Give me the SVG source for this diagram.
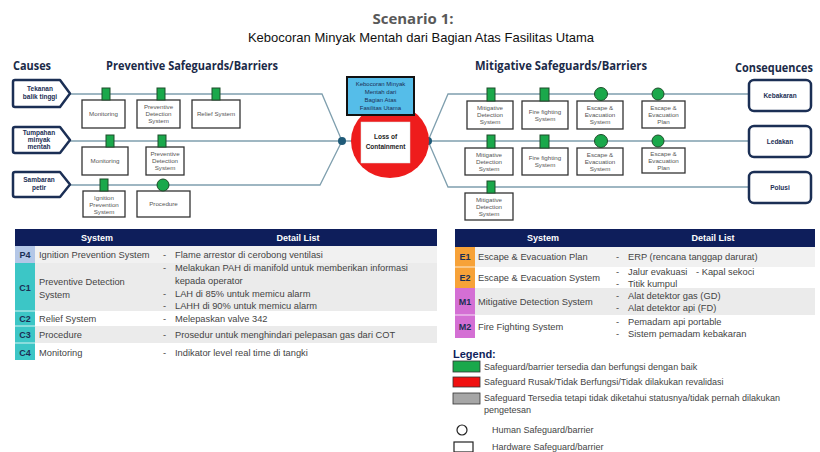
<svg xmlns="http://www.w3.org/2000/svg" width="820" height="452" viewBox="0 0 820 452">
<style>
.hd{font-family:"Open Sans","Noto Sans",sans-serif;font-weight:bold;fill:#1b2a48}
.ln{fill:none;stroke:#7f9fae;stroke-width:1.3}
.dot{fill:#1f5a78}
.bx{fill:#fff;stroke:#333;stroke-width:1.3}
.bt{font-family:"Liberation Sans",Arial,sans-serif;font-size:6.2px;fill:#555;text-anchor:middle}
.sq{fill:#1aa84b;stroke:#1d4d2a;stroke-width:1}
.cs{fill:#fff;stroke:#1b2f55;stroke-width:2.5;stroke-linejoin:round}
.ct{font-family:"Liberation Sans",Arial,sans-serif;font-size:6.5px;font-weight:bold;fill:#1b2f55;text-anchor:middle}
.th{fill:#0e1e5b}
.tht{font-family:"Liberation Sans",Arial,sans-serif;font-size:9px;font-weight:bold;fill:#fff;text-anchor:middle}
.tt{font-family:"Liberation Sans",Arial,sans-serif;font-size:9.3px;fill:#444}
.tc{font-family:"Liberation Sans",Arial,sans-serif;font-size:9px;font-weight:bold;fill:#1b2f55;text-anchor:middle}
.g1{fill:#f1f1f1}
.lg{font-family:"Liberation Sans",Arial,sans-serif;font-size:9px;fill:#444}
</style>

<!-- Titles -->
<text x="413" y="24" text-anchor="middle" font-family="Open Sans, Noto Sans, sans-serif" font-weight="bold" font-size="15" fill="#595959">Scenario 1:</text>
<text x="421" y="42" text-anchor="middle" font-family="Liberation Sans, Arial, sans-serif" font-size="13" fill="#111">Kebocoran Minyak Mentah dari Bagian Atas Fasilitas Utama</text>

<text class="hd" x="13" y="70" font-size="12" textLength="38" lengthAdjust="spacingAndGlyphs">Causes</text>
<text class="hd" x="106" y="70" font-size="12" textLength="172" lengthAdjust="spacingAndGlyphs">Preventive Safeguards/Barriers</text>
<text class="hd" x="475" y="70" font-size="12" textLength="172" lengthAdjust="spacingAndGlyphs">Mitigative Safeguards/Barriers</text>
<text class="hd" x="735" y="72" font-size="11.5" textLength="78" lengthAdjust="spacingAndGlyphs">Consequences</text>

<!-- Connectors -->
<g id="connectors">
<path class="ln" d="M70,94 H322 L342,141"/>
<path class="ln" d="M70,141 H352"/>
<path class="ln" d="M70,185 H320 L342,141"/>
<path class="ln" d="M428,141 L448,94 H749"/>
<path class="ln" d="M428,141 H749"/>
<path class="ln" d="M428,141 L448,187 H749"/>
<circle class="dot" cx="342" cy="141" r="4"/>
<circle class="dot" cx="428" cy="141" r="4"/>
</g>

<!-- Causes -->
<g id="cause-1">
<path class="cs" d="M15,80 H60 L70,93.5 L60,107 H15 Q13,107 13,105 V82 Q13,80 15,80 Z"/>
<text class="ct" x="40" y="91">Tekanan</text>
<text class="ct" x="40" y="99">balik tinggi</text>
</g>
<g id="cause-2">
<path class="cs" d="M15,127 H60 L70,140 L60,153 H15 Q13,153 13,151 V129 Q13,127 15,127 Z"/>
<text class="ct" x="39" y="135">Tumpahan</text>
<text class="ct" x="39" y="142">minyak</text>
<text class="ct" x="39" y="149">mentah</text>
</g>
<g id="cause-3">
<path class="cs" d="M15,172 H60 L70,184.5 L60,197 H15 Q13,197 13,195 V174 Q13,172 15,172 Z"/>
<text class="ct" x="39" y="182">Sambaran</text>
<text class="ct" x="39" y="190">petir</text>
</g>

<!-- Preventive barriers row 1 -->
<g id="p1-monitoring">
<rect class="bx" x="82" y="100" width="43" height="28"/>
<rect class="sq" x="102" y="88" width="8" height="12"/>
<text class="bt" x="103.5" y="116">Monitoring</text>
</g>
<g id="p1-pds">
<rect class="bx" x="137" y="100" width="43" height="28"/>
<rect class="sq" x="157" y="88" width="8" height="12"/>
<text class="bt" x="158.5" y="109">Preventive</text>
<text class="bt" x="158.5" y="116">Detection</text>
<text class="bt" x="158.5" y="123">System</text>
</g>
<g id="p1-relief">
<rect class="bx" x="192" y="100" width="48" height="28"/>
<rect class="sq" x="212" y="88" width="8" height="12"/>
<text class="bt" x="216" y="116">Relief System</text>
</g>
<!-- row 2 -->
<g id="p2-monitoring">
<rect class="bx" x="82" y="147" width="46" height="28"/>
<rect class="sq" x="106" y="135" width="8" height="12"/>
<text class="bt" x="105" y="163">Monitoring</text>
</g>
<g id="p2-pds">
<rect class="bx" x="146" y="147" width="38" height="28"/>
<rect class="sq" x="158" y="135" width="8" height="12"/>
<text class="bt" x="165" y="156">Preventive</text>
<text class="bt" x="165" y="163">Detection</text>
<text class="bt" x="165" y="170">System</text>
</g>
<!-- row 3 -->
<g id="p3-ips">
<rect class="bx" x="83" y="191" width="42" height="26"/>
<rect class="sq" x="100" y="179" width="8" height="12"/>
<text class="bt" x="104" y="199.5">Ignition</text>
<text class="bt" x="104" y="206.5">Prevention</text>
<text class="bt" x="104" y="213.5">System</text>
</g>
<g id="p3-procedure">
<rect class="bx" x="137" y="191" width="53" height="26"/>
<circle class="sq" cx="163" cy="185" r="6"/>
<text class="bt" x="163.5" y="206">Procedure</text>
</g>

<!-- Top event -->
<g id="loss-of-containment">
<ellipse cx="390" cy="141" rx="39" ry="37" fill="#ee1c1c"/>
<rect x="361" y="122" width="49" height="41" fill="#fff" stroke="#ddd" stroke-width="0.5"/>
<text class="ct" x="385.5" y="139" style="fill:#222">Loss of</text>
<text class="ct" x="385.5" y="149" style="fill:#222">Containment</text>
</g>
<g id="hazard">
<rect x="347" y="77" width="67" height="38" fill="#55bde9" stroke="#111" stroke-width="2"/>
<text class="bt" x="380.5" y="86" style="fill:#1b2f55;font-size:6px">Kebocoran Minyak</text>
<text class="bt" x="380.5" y="94" style="fill:#1b2f55;font-size:6px">Mentah dari</text>
<text class="bt" x="380.5" y="102" style="fill:#1b2f55;font-size:6px">Bagian Atas</text>
<text class="bt" x="380.5" y="110" style="fill:#1b2f55;font-size:6px">Fasilitas Utama</text>
</g>

<!-- Mitigative row 1 -->
<g id="m1-mds">
<rect class="bx" x="467" y="101" width="46" height="28"/>
<rect class="sq" x="487" y="88" width="8" height="13"/>
<text class="bt" x="490" y="110">Mitigative</text>
<text class="bt" x="490" y="117">Detection</text>
<text class="bt" x="490" y="124">System</text>
</g>
<g id="m1-ffs">
<rect class="bx" x="522" y="101" width="46" height="28"/>
<rect class="sq" x="540" y="88" width="9" height="13"/>
<text class="bt" x="545" y="113.5">Fire fighting</text>
<text class="bt" x="545" y="120.5">System</text>
</g>
<g id="m1-ees">
<rect class="bx" x="577" y="101" width="46" height="28"/>
<circle class="sq" cx="601" cy="94" r="6.5"/>
<text class="bt" x="600" y="110">Escape &amp;</text>
<text class="bt" x="600" y="117">Evacuation</text>
<text class="bt" x="600" y="124">System</text>
</g>
<g id="m1-eep">
<rect class="bx" x="642" y="101" width="43" height="27"/>
<circle class="sq" cx="658" cy="94" r="6"/>
<text class="bt" x="663.5" y="109.5">Escape &amp;</text>
<text class="bt" x="663.5" y="116.5">Evacuation</text>
<text class="bt" x="663.5" y="123.5">Plan</text>
</g>
<!-- row 2 -->
<g id="m2-mds">
<rect class="bx" x="465" y="148" width="48" height="27"/>
<rect class="sq" x="487" y="135" width="8" height="13"/>
<text class="bt" x="489" y="156.5">Mitigative</text>
<text class="bt" x="489" y="163.5">Detection</text>
<text class="bt" x="489" y="170.5">System</text>
</g>
<g id="m2-ffs">
<rect class="bx" x="522" y="148" width="46" height="27"/>
<rect class="sq" x="540" y="135" width="9" height="13"/>
<text class="bt" x="545" y="160">Fire fighting</text>
<text class="bt" x="545" y="167">System</text>
</g>
<g id="m2-ees">
<rect class="bx" x="577" y="148" width="46" height="27"/>
<circle class="sq" cx="601" cy="141" r="6.5"/>
<text class="bt" x="600" y="156.5">Escape &amp;</text>
<text class="bt" x="600" y="163.5">Evacuation</text>
<text class="bt" x="600" y="170.5">System</text>
</g>
<g id="m2-eep">
<rect class="bx" x="642" y="148" width="43" height="25"/>
<circle class="sq" cx="658" cy="141" r="6"/>
<text class="bt" x="663.5" y="155.5">Escape &amp;</text>
<text class="bt" x="663.5" y="162.5">Evacuation</text>
<text class="bt" x="663.5" y="169.5">Plan</text>
</g>
<!-- row 3 -->
<g id="m3-mds">
<rect class="bx" x="465" y="193" width="48" height="27"/>
<rect class="sq" x="487" y="181" width="8" height="12"/>
<text class="bt" x="489" y="201.5">Mitigative</text>
<text class="bt" x="489" y="208.5">Detection</text>
<text class="bt" x="489" y="215.5">System</text>
</g>

<!-- Consequences -->
<g id="c-kebakaran">
<rect class="cs" x="749" y="80" width="62" height="31" rx="5"/>
<text class="ct" x="780" y="98">Kebakaran</text>
</g>
<g id="c-ledakan">
<rect class="cs" x="749" y="126" width="62" height="31" rx="5"/>
<text class="ct" x="780" y="144">Ledakan</text>
</g>
<g id="c-polusi">
<rect class="cs" x="749" y="172" width="62" height="31" rx="5"/>
<text class="ct" x="780" y="190">Polusi</text>
</g>

<!-- Left table -->
<g id="table-preventive">
<rect class="th" x="15" y="229" width="422" height="17"/>
<text class="tht" x="97" y="241">System</text>
<text class="tht" x="298" y="241">Detail List</text>
<rect class="g1" x="35" y="246" width="402" height="17"/>
<rect x="35" y="263" width="402" height="48" fill="#ebebeb"/>
<rect x="35" y="326" width="402" height="17" fill="#ebebeb"/>
<rect x="15" y="246" width="20" height="17" fill="#b4c7e7"/>
<rect x="15" y="263" width="20" height="97" fill="#3cc6c6"/>
<line x1="15" y1="311" x2="35" y2="311" stroke="#fff" stroke-width="0.8"/>
<line x1="15" y1="326" x2="35" y2="326" stroke="#fff" stroke-width="0.8"/>
<line x1="15" y1="343" x2="35" y2="343" stroke="#fff" stroke-width="0.8"/>
<text class="tc" x="25" y="258">P4</text>
<text class="tc" x="25" y="291">C1</text>
<text class="tc" x="25" y="322">C2</text>
<text class="tc" x="25" y="338">C3</text>
<text class="tc" x="25" y="356">C4</text>
<text class="tt" x="39" y="258">Ignition Prevention System</text>
<text class="tt" x="39" y="285">Preventive Detection</text>
<text class="tt" x="39" y="298">System</text>
<text class="tt" x="39" y="322">Relief System</text>
<text class="tt" x="39" y="338">Procedure</text>
<text class="tt" x="39" y="356">Monitoring</text>
<text class="tt" x="163" y="258">-</text><text class="tt" x="175" y="258">Flame arrestor di cerobong ventilasi</text>
<text class="tt" x="163" y="271">-</text><text class="tt" x="175" y="271">Melakukan PAH di manifold untuk memberikan informasi</text>
<text class="tt" x="175" y="284">kepada operator</text>
<text class="tt" x="163" y="297">-</text><text class="tt" x="175" y="297">LAH di 85% untuk memicu alarm</text>
<text class="tt" x="163" y="309">-</text><text class="tt" x="175" y="309">LAHH di 90% untuk memicu alarm</text>
<text class="tt" x="163" y="322">-</text><text class="tt" x="175" y="322">Melepaskan valve 342</text>
<text class="tt" x="163" y="338">-</text><text class="tt" x="175" y="338">Prosedur untuk menghindari pelepasan gas dari COT</text>
<text class="tt" x="163" y="356">-</text><text class="tt" x="175" y="356">Indikator level real time di tangki</text>
</g>

<!-- Right table -->
<g id="table-mitigative">
<rect class="th" x="455" y="229" width="360" height="18"/>
<text class="tht" x="543" y="241">System</text>
<text class="tht" x="713" y="241">Detail List</text>
<rect class="g1" x="475" y="247" width="340" height="20"/>
<rect x="475" y="288" width="340" height="27" fill="#ebebeb"/>
<rect x="455" y="247" width="20" height="41" fill="#f7a238"/>
<rect x="455" y="288" width="20" height="50" fill="#d46fd4"/>
<line x1="455" y1="267" x2="475" y2="267" stroke="#fff" stroke-width="0.8"/>
<line x1="455" y1="315" x2="475" y2="315" stroke="#fff" stroke-width="0.8"/>
<text class="tc" x="465" y="260">E1</text>
<text class="tc" x="465" y="281">E2</text>
<text class="tc" x="465" y="305">M1</text>
<text class="tc" x="465" y="330">M2</text>
<text class="tt" x="478" y="260">Escape &amp; Evacuation Plan</text>
<text class="tt" x="478" y="281">Escape &amp; Evacuation System</text>
<text class="tt" x="478" y="305">Mitigative Detection System</text>
<text class="tt" x="478" y="330">Fire Fighting System</text>
<text class="tt" x="616" y="260">-</text><text class="tt" x="628" y="260">ERP (rencana tanggap darurat)</text>
<text class="tt" x="616" y="275">-</text><text class="tt" x="628" y="275">Jalur evakuasi</text><text class="tt" x="696" y="275">- Kapal sekoci</text>
<text class="tt" x="616" y="287">-</text><text class="tt" x="628" y="287">Titik kumpul</text>
<text class="tt" x="616" y="299">-</text><text class="tt" x="628" y="299">Alat detektor gas (GD)</text>
<text class="tt" x="616" y="311">-</text><text class="tt" x="628" y="311">Alat detektor api (FD)</text>
<text class="tt" x="616" y="325">-</text><text class="tt" x="628" y="325">Pemadam api portable</text>
<text class="tt" x="616" y="337">-</text><text class="tt" x="628" y="337">Sistem pemadam kebakaran</text>
</g>

<!-- Legend -->
<g id="legend">
<text x="453" y="358" font-family="Liberation Sans, Arial, sans-serif" font-size="11" font-weight="bold" fill="#0e1e5b">Legend:</text>
<rect x="453" y="361" width="27" height="11" fill="#1aa84b" stroke="#333" stroke-width="0.8"/>
<text class="lg" x="484" y="370">Safeguard/barrier tersedia dan berfungsi dengan baik</text>
<rect x="453" y="377" width="27" height="10" fill="#f01010" stroke="#333" stroke-width="0.8"/>
<text class="lg" x="484" y="385">Safeguard Rusak/Tidak Berfungsi/Tidak dilakukan revalidasi</text>
<rect x="453" y="393" width="27" height="11" fill="#a6a6a6" stroke="#333" stroke-width="0.8"/>
<text class="lg" x="484" y="401">Safeguard Tersedia tetapi tidak diketahui statusnya/tidak pernah dilakukan</text>
<text class="lg" x="484" y="413">pengetesan</text>
<circle cx="462" cy="430" r="5" fill="#fff" stroke="#222" stroke-width="1.2"/>
<text class="lg" x="492" y="433">Human Safeguard/barrier</text>
<rect x="454" y="442" width="19" height="10" fill="#fff" stroke="#222" stroke-width="1.2"/>
<text class="lg" x="492" y="450">Hardware Safeguard/barrier</text>
</g>
</svg>
